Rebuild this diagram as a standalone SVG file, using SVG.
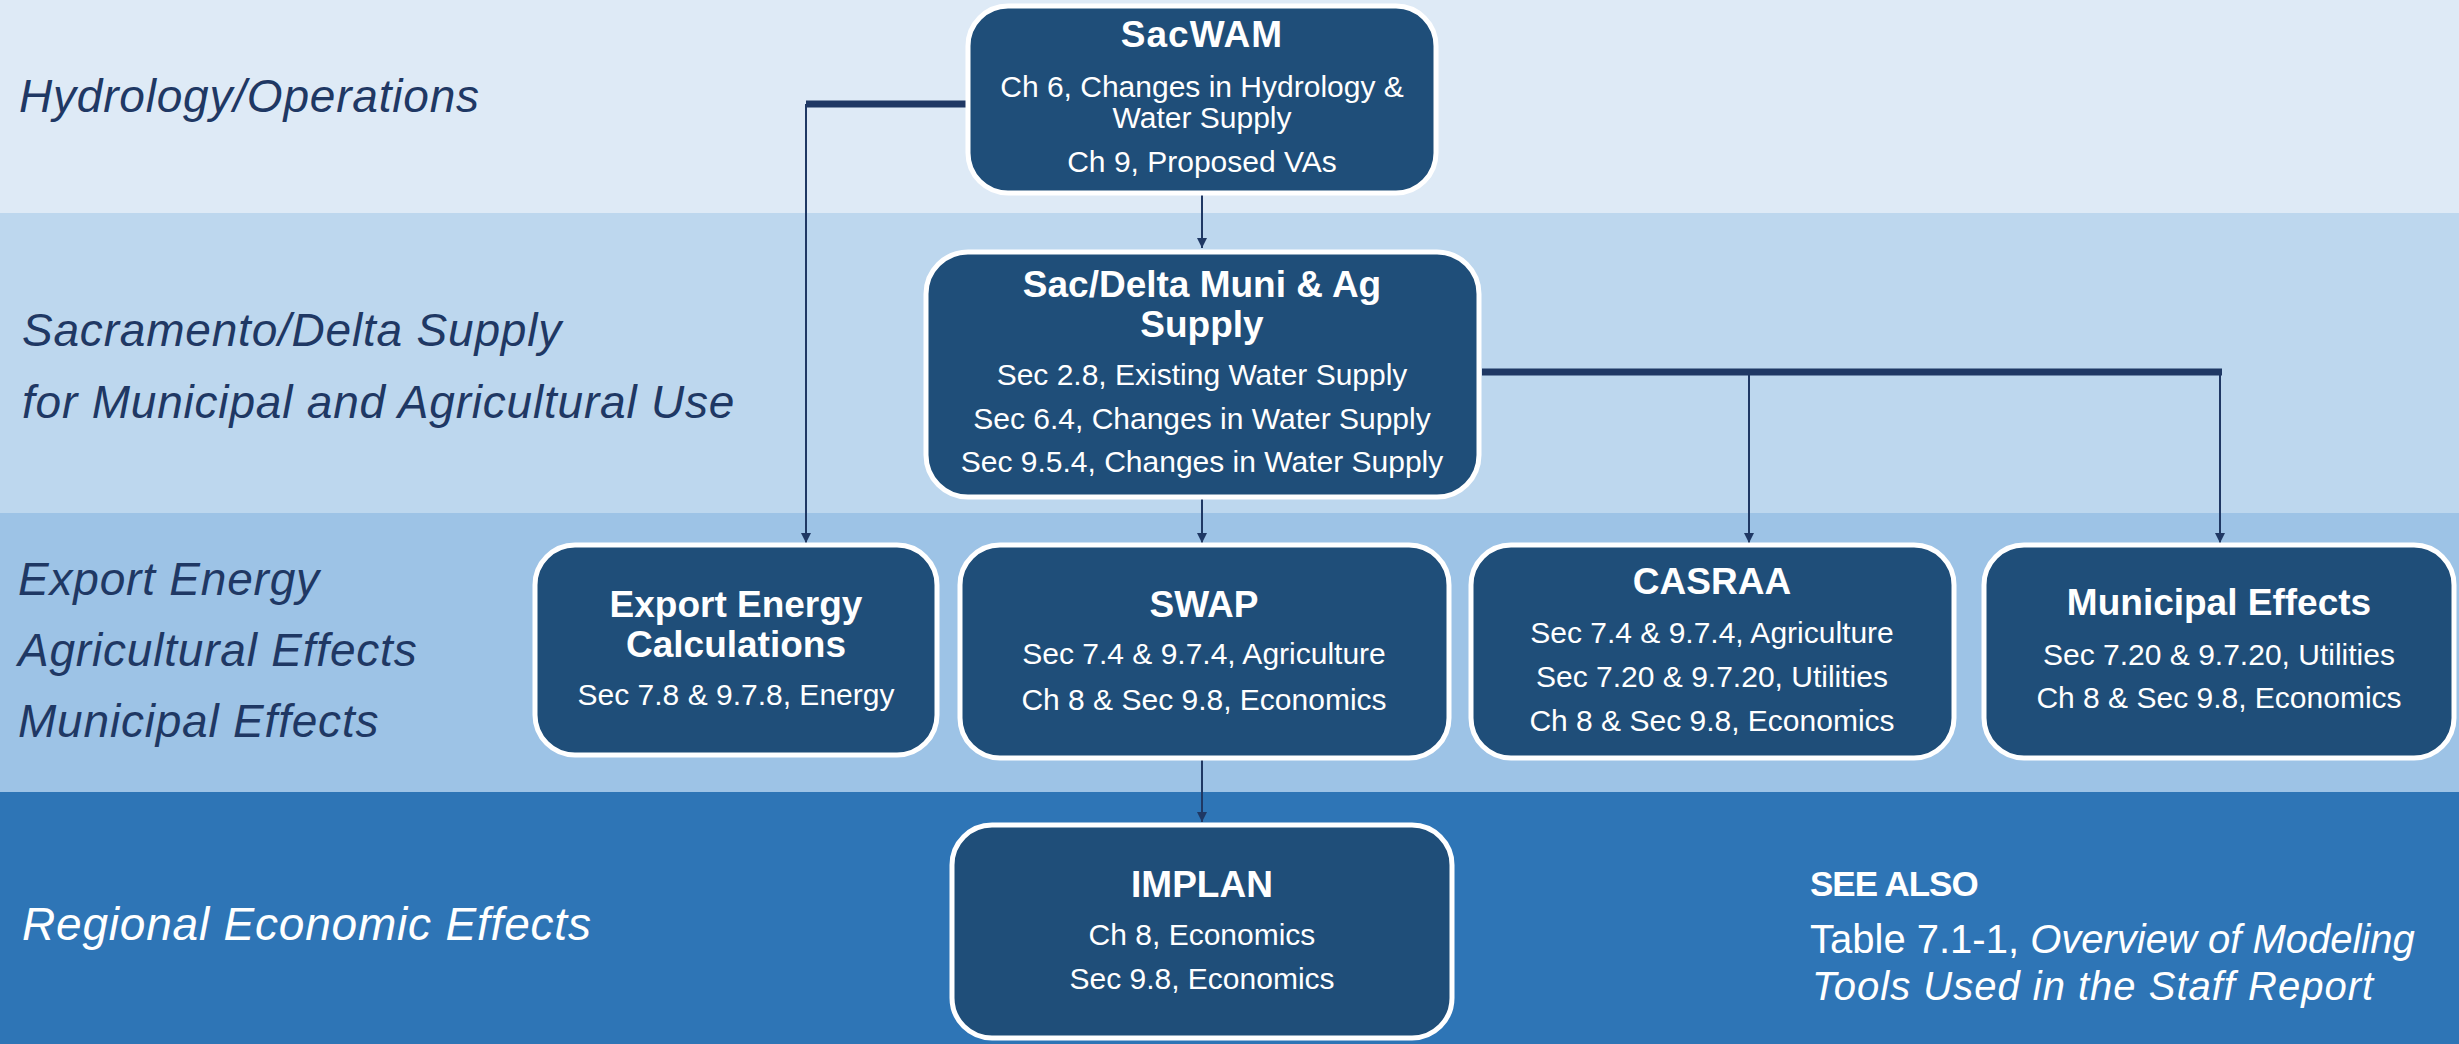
<svg xmlns="http://www.w3.org/2000/svg" width="2459" height="1044" viewBox="0 0 2459 1044">
<defs>
<marker id="arr" viewBox="0 0 10 10" refX="10" refY="5" markerWidth="10" markerHeight="10" markerUnits="userSpaceOnUse" orient="auto">
<path d="M0,0 L10,5 L0,10 z" fill="#1F3864"/>
</marker>
<style>
.box{fill:#1F4E79;stroke:#FFFFFF;stroke-width:5}
.t{font-family:"Liberation Sans",Arial,sans-serif;font-weight:bold;font-size:37px;fill:#FFFFFF;text-anchor:middle}
.s{font-family:"Liberation Sans",Arial,sans-serif;font-size:30px;fill:#FFFFFF;text-anchor:middle}
.lbl{font-family:"Liberation Sans",Arial,sans-serif;font-style:italic;font-size:46px;letter-spacing:0.8px;fill:#1F3864}
.thin{stroke:#1F3864;stroke-width:2;fill:none}
.thick{stroke:#1F3864;stroke-width:7;fill:none}
</style>
</defs>
<g id="bands">
<rect x="0" y="0" width="2459" height="213" fill="#DEEAF6"/>
<rect x="0" y="213" width="2459" height="300" fill="#BDD7EE"/>
<rect x="0" y="513" width="2459" height="279" fill="#9DC3E6"/>
<rect x="0" y="792" width="2459" height="252" fill="#2E75B6"/>
</g>
<g id="labels">
<text class="lbl" x="19" y="112">Hydrology/Operations</text>
<text class="lbl" x="22" y="346">Sacramento/Delta Supply</text>
<text class="lbl" x="22" y="418">for Municipal and Agricultural Use</text>
<text class="lbl" x="18" y="595">Export Energy</text>
<text class="lbl" x="18" y="666">Agricultural Effects</text>
<text class="lbl" x="18" y="737">Municipal Effects</text>
<text class="lbl" x="22" y="940" style="fill:#FFFFFF">Regional Economic Effects</text>
</g>
<g id="connectors">
<path class="thick" d="M806,104 H968"/>
<path class="thin" d="M806,104 V543" marker-end="url(#arr)"/>
<path class="thin" d="M1202,193 V248" marker-end="url(#arr)"/>
<path class="thick" d="M1482,372 H2222"/>
<path class="thin" d="M1749,372 V543" marker-end="url(#arr)"/>
<path class="thin" d="M2220,372 V543" marker-end="url(#arr)"/>
<path class="thin" d="M1202,497 V543" marker-end="url(#arr)"/>
<path class="thin" d="M1202,758 V822" marker-end="url(#arr)"/>
</g>
<g id="sacwam">
<rect class="box" x="968" y="6" width="468" height="187" rx="40"/>
<text class="t" x="1202" y="47" style="letter-spacing:1px">SacWAM</text>
<text class="s" x="1202" y="97">Ch 6, Changes in Hydrology &amp;</text>
<text class="s" x="1202" y="128">Water Supply</text>
<text class="s" x="1202" y="172">Ch 9, Proposed VAs</text>
</g>
<g id="sacdelta">
<rect class="box" x="926" y="252" width="553" height="245" rx="42"/>
<text class="t" x="1202" y="297">Sac/Delta Muni &amp; Ag</text>
<text class="t" x="1202" y="337">Supply</text>
<text class="s" x="1202" y="385">Sec 2.8, Existing Water Supply</text>
<text class="s" x="1202" y="429">Sec 6.4, Changes in Water Supply</text>
<text class="s" x="1202" y="472">Sec 9.5.4, Changes in Water Supply</text>
</g>
<g id="export">
<rect class="box" x="535" y="545" width="402" height="210" rx="40"/>
<text class="t" x="736" y="617">Export Energy</text>
<text class="t" x="736" y="657">Calculations</text>
<text class="s" x="736" y="705">Sec 7.8 &amp; 9.7.8, Energy</text>
</g>
<g id="swap">
<rect class="box" x="960" y="545" width="489" height="213" rx="40"/>
<text class="t" x="1204" y="617">SWAP</text>
<text class="s" x="1204" y="664">Sec 7.4 &amp; 9.7.4, Agriculture</text>
<text class="s" x="1204" y="710">Ch 8 &amp; Sec 9.8, Economics</text>
</g>
<g id="casraa">
<rect class="box" x="1471" y="545" width="483" height="213" rx="40"/>
<text class="t" x="1712" y="594">CASRAA</text>
<text class="s" x="1712" y="643">Sec 7.4 &amp; 9.7.4, Agriculture</text>
<text class="s" x="1712" y="687">Sec 7.20 &amp; 9.7.20, Utilities</text>
<text class="s" x="1712" y="731">Ch 8 &amp; Sec 9.8, Economics</text>
</g>
<g id="municipal">
<rect class="box" x="1984" y="545" width="470" height="213" rx="40"/>
<text class="t" x="2219" y="615">Municipal Effects</text>
<text class="s" x="2219" y="665">Sec 7.20 &amp; 9.7.20, Utilities</text>
<text class="s" x="2219" y="708">Ch 8 &amp; Sec 9.8, Economics</text>
</g>
<g id="implan">
<rect class="box" x="952" y="825" width="500" height="213" rx="40"/>
<text class="t" x="1202" y="897">IMPLAN</text>
<text class="s" x="1202" y="945">Ch 8, Economics</text>
<text class="s" x="1202" y="989">Sec 9.8, Economics</text>
</g>
<g id="seealso">
<text x="1810" y="896" style="font-family:'Liberation Sans',Arial,sans-serif;font-weight:bold;font-size:35px;fill:#FFFFFF;letter-spacing:-1px">SEE ALSO</text>
<text x="1810" y="953" style="font-family:'Liberation Sans',Arial,sans-serif;font-size:40px;fill:#FFFFFF">Table 7.1-1, <tspan font-style="italic">Overview of Modeling</tspan></text>
<text x="1812" y="1000" style="font-family:'Liberation Sans',Arial,sans-serif;font-size:40px;letter-spacing:1px;fill:#FFFFFF;font-style:italic">Tools Used in the Staff Report</text>
</g>
</svg>
